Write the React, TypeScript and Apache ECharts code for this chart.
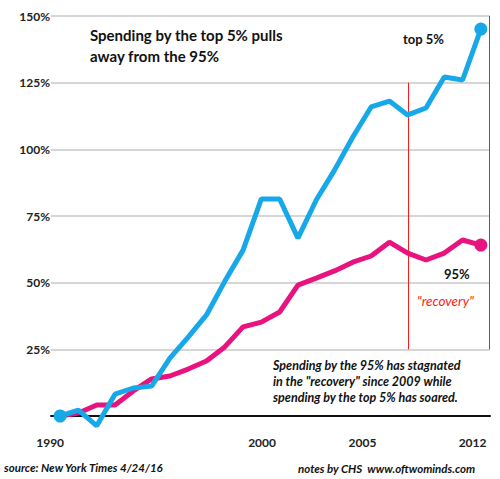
import React, { useEffect, useRef } from "react";
import * as echarts from "echarts";

const years = [
  "1990", "1991", "1992", "1993", "1994", "1995", "1996", "1997",
  "1998", "1999", "2000", "2001", "2002", "2003", "2004", "2005",
  "2006", "2007", "2008", "2009", "2010", "2011", "2012", "2013",
];
const top5 = [
  0, 2.2, -3.7, 8.2, 10.5, 11.2, 21.7, 29.6, 37.9, 50.5, 62.2, 81.4,
  81.4, 66.7, 81, 92.2, 104.6, 115.9, 118.1, 112.9, 115.5, 127.1, 126, 145.1,
];
const bottom95 = [
  0, 1.1, 4.1, 4.1, 9.4, 13.9, 15, 17.6, 20.6, 25.9, 33.4, 35.2, 39, 49.1,
  51.7, 54.4, 57.7, 60, 65.2, 61.1, 58.5, 61.1, 66, 64.1,
];
const xTickLabels = ["1990", "2000", "2005", "2012"];
const yTicks = [0, 25, 50, 75, 100, 125, 150];
const recoveryStart = "2009";

const FONT = "Lato, 'Open Sans', sans-serif";
const BLUE = "#17a8ea";
const PINK = "#e8137e";
const RED = "#ff1a1a";

export default function App() {
  const ref = useRef<HTMLDivElement>(null);
  useEffect(() => {
    if (!ref.current) return;
    const chart = echarts.init(ref.current, undefined, { renderer: "svg" });
    const last = years.length - 1;
    const endSize = (_v: any, p: any) =>
      p.dataIndex === 0 || p.dataIndex === last ? 13 : 0;
    chart.setOption({
      animation: false,
      grid: { left: 51, right: 10, top: 16, bottom: 63, containLabel: false },
      xAxis: {
        type: "category",
        data: years,
        boundaryGap: [0.15, 0.5],
        axisLine: { show: true, lineStyle: { color: "#111", width: 2 } },
        axisTick: { show: false },
        splitLine: { show: false },
        axisLabel: {
          interval: 0,
          margin: 20,
          fontFamily: FONT,
          fontWeight: "bold",
          fontSize: 12,
          color: "#222",
          formatter: (v: string) =>
            xTickLabels.includes(v) ? `{y${v}|${v}}` : "",
          rich: {
            y1990: { padding: [0, 20, 0, 0] },
            y2000: { padding: [0, 0, 0, 38] },
            y2005: { padding: [0, 0, 0, 56] },
            y2012: { padding: [0, 0, 0, 20] },
          },
        },
      },
      yAxis: {
        type: "value",
        min: yTicks[0],
        max: yTicks[yTicks.length - 1],
        interval: 25,
        axisLine: { show: false },
        axisTick: { show: false },
        splitLine: { lineStyle: { color: "#c8c8c8", width: 1.5 } },
        axisLabel: {
          margin: 1,
          fontFamily: FONT,
          fontWeight: "bold",
          fontSize: 12,
          color: "#222",
          formatter: (v: number) => (v === 0 ? "" : `${v}%`),
        },
      },
      series: [
        {
          name: "95%",
          type: "line",
          data: bottom95,
          clip: false,
          symbol: "circle",
          symbolSize: (_v: any, p: any) => (p.dataIndex === last ? 13 : 0),
          showSymbol: true,
          lineStyle: { color: PINK, width: 5 },
          itemStyle: { color: PINK },
        },
        {
          name: "top 5%",
          type: "line",
          data: top5,
          clip: false,
          symbol: "circle",
          symbolSize: endSize,
          showSymbol: true,
          lineStyle: { color: BLUE, width: 5 },
          itemStyle: { color: BLUE },
        },
      ],
    });

    const px = (cat: string) => chart.convertToPixel({ xAxisIndex: 0 }, cat) as number;
    const py = (v: number) => chart.convertToPixel({ yAxisIndex: 0 }, v) as number;
    const xRec = Math.round(px(recoveryStart)) + 0.5;
    const xLast = px(years[last]);
    const xEdge = Math.round(xLast + (xLast - px(years[last - 1])) * 0.45) + 0.5;

    chart.setOption({
      graphic: [
        {
          type: "line",
          shape: { x1: xRec, y1: py(125), x2: xRec, y2: py(25) },
          style: { stroke: RED, lineWidth: 1 },
          z: 1,
        },
        {
          type: "line",
          shape: { x1: xEdge, y1: py(150), x2: xEdge, y2: py(25) },
          style: { stroke: RED, lineWidth: 1 },
          z: 1,
        },
        {
          type: "text",
          left: 90,
          top: 24,
          style: {
            text: "Spending by the top 5% pulls\naway from the 95%",
            font: `bold 15px ${FONT}`,
            fill: "#111",
            lineHeight: 21,
          },
        },
        {
          type: "text",
          left: 403,
          top: 32,
          style: { text: "top 5%", font: `bold 13px ${FONT}`, fill: "#111" },
        },
        {
          type: "text",
          left: 444,
          top: 267,
          style: { text: "95%", font: `bold 13px ${FONT}`, fill: "#111" },
        },
        {
          type: "text",
          left: 417,
          top: 294,
          style: {
            text: '"recovery"',
            font: `italic 13.5px ${FONT}`,
            fill: RED,
          },
        },
        {
          type: "text",
          left: 273,
          top: 357,
          style: {
            text:
              'Spending by the 95% has stagnated\nin the "recovery" since 2009 while\nspending by the top 5% has soared.',
            font: `italic bold 12.5px ${FONT}`,
            fill: "#111",
            lineHeight: 16,
          },
        },
        {
          type: "text",
          left: 4,
          top: 461,
          style: {
            text: "source: New York Times 4/24/16",
            font: `italic bold 11.5px ${FONT}`,
            fill: "#111",
          },
        },
        {
          type: "text",
          left: 298,
          top: 462,
          style: {
            text: "notes by CHS  www.oftwominds.com",
            font: `italic bold 11.5px ${FONT}`,
            fill: "#111",
          },
        },
      ],
    });
    return () => chart.dispose();
  }, []);
  return (
    <div
      ref={ref}
      style={{ position: "fixed", left: 0, top: 0, width: 500, height: 479, background: "#fff" }}
    />
  );
}
